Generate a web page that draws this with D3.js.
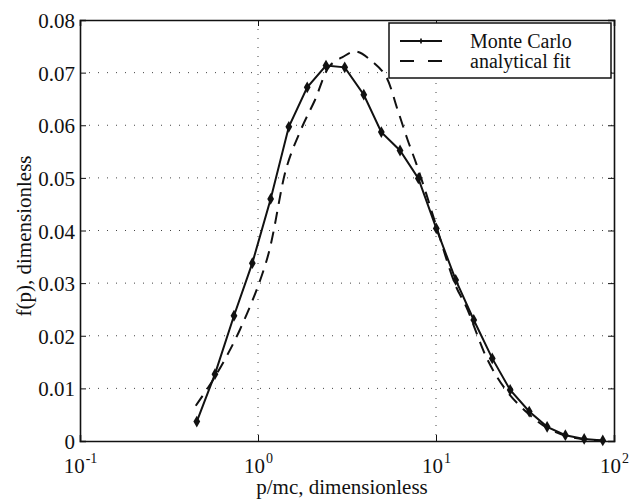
<!DOCTYPE html>
<html>
<head>
<meta charset="utf-8">
<script src="https://cdn.jsdelivr.net/npm/d3@7"></script>
<style>
body { margin: 0; background: #fff; }
</style>
</head>
<body>
<svg id="chart" width="636" height="500"></svg>
<script>
// Monte Carlo points (p/mc, f(p))
var mcX = [0.453, 0.573, 0.733, 0.929, 1.178, 1.49, 1.89, 2.41, 3.07, 3.93, 4.93, 6.28,
           7.96, 10.04, 12.9, 16.3, 20.7, 26.1, 33.4, 42.1, 53.3, 68.0, 86.5];
var mcY = [0.0037, 0.0127, 0.0238, 0.0338, 0.0460, 0.0597, 0.0672, 0.07135, 0.0710, 0.0658, 0.0587, 0.0552,
           0.0499, 0.0404, 0.0306, 0.0230, 0.0157, 0.0097, 0.0056, 0.0027, 0.0011, 0.0004, 0.0001];

// analytical fit
var fitX = [0.447, 0.573, 0.79, 1.12, 1.45, 1.76, 2.09, 2.52, 3.0, 3.55, 4.5, 5.23, 6.09, 6.93,
            7.73, 8.79, 10.0, 12.9, 14.8, 19.5, 24.7, 32.7, 42.1, 53.3, 68.0, 86.5];
var fitY = [0.0067, 0.0122, 0.0211, 0.0344, 0.0521, 0.0595, 0.0648, 0.0712, 0.0730, 0.0740, 0.0718, 0.0693, 0.0629, 0.0572,
            0.0528, 0.0471, 0.0410, 0.0295, 0.0255, 0.0154, 0.0097, 0.0053, 0.0025, 0.0010, 0.0003, 0.0001];

var xTicks = [0.1, 1, 10, 100];
var xTickExp = ["-1", "0", "1", "2"];
var yTicks = [0, 0.01, 0.02, 0.03, 0.04, 0.05, 0.06, 0.07, 0.08];
var legendLabels = ["Monte Carlo", "analytical fit"];

var FONT = "'Liberation Serif', 'DejaVu Serif', 'Noto Serif', 'Times New Roman', 'Liberation Sans', Arial, sans-serif";

var margin = {left: 80, top: 20, right: 22, bottom: 59};
var W = 636, H = 500;
var iw = W - margin.left - margin.right;
var ih = H - margin.top - margin.bottom;

var svg = d3.select("#chart");
var g = svg.append("g").attr("transform", "translate(" + margin.left + "," + margin.top + ")");

var x = d3.scaleLog().domain([0.1, 100]).range([0, iw]);
var y = d3.scaleLinear().domain([0, 0.08]).range([ih, 0]);

// grid
g.append("g").selectAll("line").data(yTicks.slice(1, -1)).enter().append("line")
    .attr("x1", 0).attr("x2", iw)
    .attr("y1", function(d) { return y(d); }).attr("y2", function(d) { return y(d); })
    .attr("stroke", "#444").attr("stroke-width", 1).attr("stroke-dasharray", "1,8");
g.append("g").selectAll("line").data(xTicks.slice(1, -1)).enter().append("line")
    .attr("y1", 0).attr("y2", ih)
    .attr("x1", function(d) { return x(d); }).attr("x2", function(d) { return x(d); })
    .attr("stroke", "#444").attr("stroke-width", 1).attr("stroke-dasharray", "1,8");

// axes with inward ticks
var tl = 6;
var yAxisL = d3.axisLeft(y).tickValues(yTicks).tickSize(-tl).tickPadding(5)
    .tickFormat(function(d) { return d === 0 ? "0" : d3.format(".2f")(d); });
var yAxisR = d3.axisRight(y).tickValues(yTicks).tickSize(-tl).tickFormat("");
var xAxisB = d3.axisBottom(x).tickValues(xTicks).tickSize(-tl).tickFormat("");
var xAxisT = d3.axisTop(x).tickValues(xTicks).tickSize(-tl).tickFormat("");

var ay = g.append("g").call(yAxisL);
g.append("g").attr("transform", "translate(" + iw + ",0)").call(yAxisR);
var ax = g.append("g").attr("transform", "translate(0," + ih + ")").call(xAxisB);
g.append("g").call(xAxisT);
g.selectAll(".domain").attr("stroke", "#111").attr("stroke-width", 1.6);
g.selectAll(".tick line").attr("stroke", "#111").attr("stroke-width", 1);
ay.selectAll("text").attr("dy", "0.36em");

// x tick labels 10^n
ax.selectAll(".tick").each(function(d, i) {
    var t = d3.select(this).append("text").attr("y", 32).attr("text-anchor", "middle");
    t.append("tspan").text("10");
    t.append("tspan").attr("dy", -10).attr("dx", 1).style("font-size", "14px").text(xTickExp[i]);
});

// axis titles
svg.append("text").attr("x", 342).attr("y", 494).attr("text-anchor", "middle")
    .text("p/mc, dimensionless");
svg.append("text").attr("transform", "translate(31,236) rotate(-90)")
    .attr("text-anchor", "middle").text("f(p), dimensionless");

// curves
var fitData = fitX.map(function(v, i) { return [v, fitY[i]]; });
var mcData = mcX.map(function(v, i) { return [v, mcY[i]]; });
var line = d3.line().x(function(d) { return x(d[0]); }).y(function(d) { return y(d[1]); });

g.append("path").datum(fitData).attr("d", line.curve(d3.curveCatmullRom))
    .attr("fill", "none").attr("stroke", "#111").attr("stroke-width", 2)
    .attr("stroke-dasharray", "12,8");
g.append("path").datum(mcData).attr("d", line.curve(d3.curveLinear))
    .attr("fill", "none").attr("stroke", "#111").attr("stroke-width", 2);
g.append("g").selectAll("path").data(mcData).enter().append("path")
    .attr("transform", function(d) { return "translate(" + x(d[0]) + "," + y(d[1]) + ")"; })
    .attr("d", d3.symbol().type(d3.symbolDiamond).size(40))
    .attr("fill", "#111");

// legend
var lg = svg.append("g").attr("transform", "translate(389,23)");
lg.append("rect").attr("width", 222).attr("height", 55)
    .attr("fill", "#fff").attr("stroke", "#111").attr("stroke-width", 1.5);
var rows = [18, 38];
lg.append("line").attr("x1", 11).attr("x2", 53).attr("y1", rows[0]).attr("y2", rows[0])
    .attr("stroke", "#111").attr("stroke-width", 2);
lg.append("path").attr("transform", "translate(32," + rows[0] + ")")
    .attr("d", d3.symbol().type(d3.symbolCross).size(14)).attr("fill", "#111");
lg.append("line").attr("x1", 11).attr("x2", 53).attr("y1", rows[1]).attr("y2", rows[1])
    .attr("stroke", "#111").attr("stroke-width", 2).attr("stroke-dasharray", "14,14");
lg.selectAll("text.lbl").data(legendLabels).enter().append("text")
    .attr("x", 81).attr("y", function(d, i) { return rows[i]; }).attr("dy", "0.33em")
    .style("font-size", "20px")
    .text(function(d) { return d; });

// one font for every text, set after the axes so it wins over d3's defaults
svg.selectAll("g").attr("font-family", null).attr("font-size", null);
svg.selectAll("text").style("font-family", FONT).style("font-size", function() {
    return this.style.fontSize || "21px";
}).attr("fill", "#111");
</script>
</body>
</html>
